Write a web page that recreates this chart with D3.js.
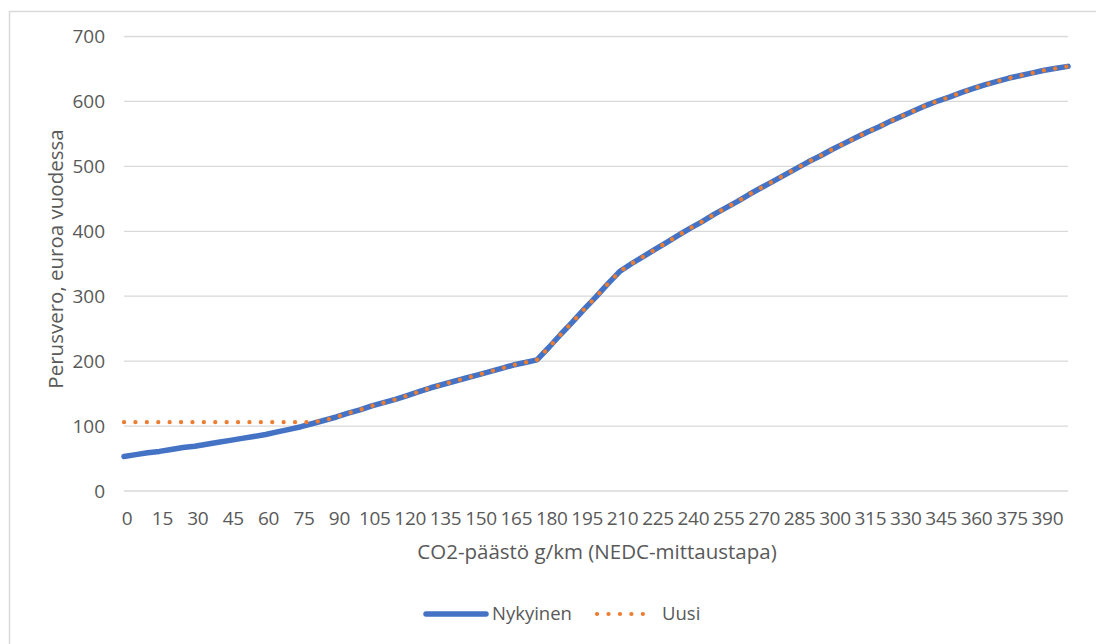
<!DOCTYPE html>
<html>
<head>
<meta charset="utf-8">
<script src="https://cdn.jsdelivr.net/npm/d3@7"></script>
<style>
  body { margin: 0; background: #fff; }
  svg { font-family: "Open Sans", sans-serif; }
</style>
</head>
<body>
<svg></svg>
<script>
// CO2 g/km categories (step 5)
const co2 = [0,5,10,15,20,25,30,35,40,45,50,55,60,65,70,75,80,85,90,95,
  100,105,110,115,120,125,130,135,140,145,150,155,160,165,170,175,180,185,190,195,
  200,205,210,215,220,225,230,235,240,245,250,255,260,265,270,275,280,285,290,295,
  300,305,310,315,320,325,330,335,340,345,350,355,360,365,370,375,380,385,390,395,400];

const nykyinen = [53,56,59,61,64,67,69,72,75,78,81,84,87,91,95,99,104,109,114,120,
  125,131,136,141,147,153,159,164,169,174,179,184,189,194,198,202,221,241,260,280,
  299,319,338,350,361,372,383,394,405,415,426,436,446,457,467,477,487,497,507,516,
  526,535,544,553,561,570,578,586,594,601,607,614,620,626,631,636,640,644,648,651,654];

const uusi = [106,106,106,106,106,106,106,106,106,106,106,106,106,106,106,106,106,109,114,120,
  125,131,136,141,147,153,159,164,169,174,179,184,189,194,198,202,221,241,260,280,
  299,319,338,350,361,372,383,394,405,415,426,436,446,457,467,477,487,497,507,516,
  526,535,544,553,561,570,578,586,594,601,607,614,620,626,631,636,640,644,648,651,654];

const yTicks = [0,100,200,300,400,500,600,700];
const xTickLabels = co2.filter(d => d % 15 === 0);

const W = 1096, H = 644;
const svg = d3.select("svg").attr("width", W).attr("height", H);

// chart frame
svg.append("rect")
  .attr("x", 9.5).attr("y", 11.5)
  .attr("width", 1200).attr("height", 800)
  .attr("fill", "#fff")
  .attr("stroke", "#d9d9d9").attr("stroke-width", 1.5);

const x = d3.scalePoint().domain(co2).range([124, 1068]);
const y = d3.scaleLinear().domain([0, 700]).range([491, 36.5]);

// gridlines
svg.append("g")
  .selectAll("line")
  .data(yTicks)
  .join("line")
  .attr("x1", 124).attr("x2", 1068)
  .attr("y1", d => y(d)).attr("y2", d => y(d))
  .attr("stroke", "#d9d9d9").attr("stroke-width", 1.3);

// y axis labels
svg.append("g")
  .selectAll("text")
  .data(yTicks)
  .join("text")
  .attr("x", 105).attr("y", d => y(d))
  .attr("dy", "0.35em")
  .attr("text-anchor", "end")
  .attr("fill", "#595959")
  .attr("font-size", 19)
  .text(d => d);

// x axis labels
svg.append("g")
  .selectAll("text")
  .data(xTickLabels)
  .join("text")
  .attr("x", d => x(d) + 3).attr("y", 518)
  .attr("dy", "0.35em")
  .attr("text-anchor", "middle")
  .attr("fill", "#595959")
  .attr("font-size", 19)
  .attr("letter-spacing", -0.3)
  .text(d => d);

// axis titles
svg.append("text")
  .attr("x", 597).attr("y", 552)
  .attr("dy", "0.35em")
  .attr("text-anchor", "middle")
  .attr("fill", "#595959")
  .attr("font-size", 20.5)
  .text("CO2-päästö g/km (NEDC-mittaustapa)");

svg.append("text")
  .attr("transform", "translate(63,259) rotate(-90)")
  .attr("text-anchor", "middle")
  .attr("fill", "#595959")
  .attr("font-size", 20.5)
  .text("Perusvero, euroa vuodessa");

// lines
const line = d3.line()
  .x((d, i) => x(co2[i]))
  .y(d => y(d));

svg.append("path")
  .datum(nykyinen)
  .attr("d", line)
  .attr("fill", "none")
  .attr("stroke", "#4472C4")
  .attr("stroke-width", 5.5)
  .attr("stroke-linejoin", "round")
  .attr("stroke-linecap", "round");

svg.append("path")
  .datum(uusi)
  .attr("d", line)
  .attr("fill", "none")
  .attr("stroke", "#ED7D31")
  .attr("stroke-width", 4.2)
  .attr("stroke-dasharray", "0.1 11.3")
  .attr("stroke-linecap", "round");

// legend
const leg = svg.append("g");
leg.append("line")
  .attr("x1", 426).attr("x2", 486).attr("y1", 614).attr("y2", 614)
  .attr("stroke", "#4472C4").attr("stroke-width", 5.5)
  .attr("stroke-linecap", "round");
leg.append("text")
  .attr("x", 492).attr("y", 614).attr("dy", "0.35em")
  .attr("fill", "#595959").attr("font-size", 18.5)
  .text("Nykyinen");
leg.append("line")
  .attr("x1", 597).attr("x2", 654).attr("y1", 614).attr("y2", 614)
  .attr("stroke", "#ED7D31").attr("stroke-width", 4.2)
  .attr("stroke-dasharray", "0.1 11.35")
  .attr("stroke-linecap", "round");
leg.append("text")
  .attr("x", 662).attr("y", 614).attr("dy", "0.35em")
  .attr("fill", "#595959").attr("font-size", 18.5)
  .text("Uusi");
</script>
</body>
</html>
